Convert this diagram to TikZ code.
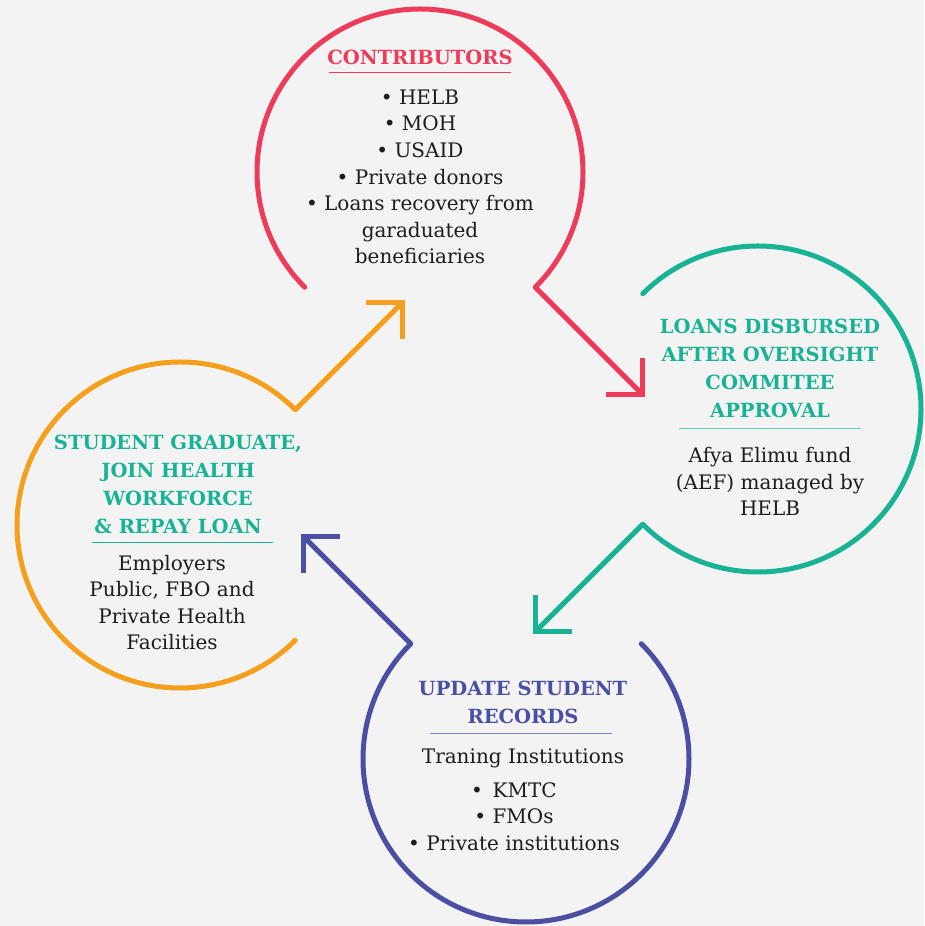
\documentclass[tikz,border=0pt]{standalone}
\usepackage{fontspec}
\setmainfont{DejaVu Serif}
\usetikzlibrary{calc}
\definecolor{cred}{HTML}{EE3B5A}
\definecolor{cteal}{HTML}{17B394}
\definecolor{cblue}{HTML}{4B4FA3}
\definecolor{corange}{HTML}{F5A01D}
\definecolor{bg}{HTML}{F3F3F3}
\definecolor{txt}{HTML}{1E1C1D}
\begin{document}
\begin{tikzpicture}[x=1pt,y=1pt,
  ring/.style={line width=5pt, line cap=round, line join=miter},
  head/.style={line width=5pt, line cap=butt, line join=miter},
  ttl/.style={font=\bfseries\fontsize{19.5}{28}\selectfont, align=center, inner sep=0pt},
  body/.style={font=\fontsize{20}{26.6}\selectfont, text=txt, align=center, inner sep=0pt},
  rulel/.style={line width=1pt}]
\fill[bg] (0,0) rectangle (924,926);
\useasboundingbox (0,0) rectangle (924,926);
% centres
\coordinate (rc) at (420,754);
\coordinate (tc) at (758,517);
\coordinate (bc) at (526,167);
\coordinate (oc) at (180,401);
% red ring
\draw[ring,cred] ($(rc)+(225:163)$) arc[start angle=225,end angle=-45,radius=163] coordinate (rk);
\path (rk) ++(-45:151) coordinate (rt);
\draw[head,cred] (rk) -- (rt);
\draw[head,cred] ($(rt)+(0,36)$) coordinate (rt1) (rt1) -- (rt) -- ($(rt)+(-36,0)$);
% teal ring
\draw[ring,cteal] ($(tc)+(135:163)$) arc[start angle=135,end angle=-135,radius=163] coordinate (tk);
\path (tk) ++(225:151) coordinate (tt);
\draw[head,cteal] (tk) -- (tt);
\draw[head,cteal] ($(tt)+(0,36)$) coordinate (tt1) (tt1) -- (tt) -- ($(tt)+(36,0)$);
% blue ring
\draw[ring,cblue] ($(bc)+(45:163)$) arc[start angle=45,end angle=-225,radius=163] coordinate (bk);
\path (bk) ++(135:151) coordinate (bt);
\draw[head,cblue] (bk) -- (bt);
\draw[head,cblue] ($(bt)+(0,-36)$) coordinate (bt1) (bt1) -- (bt) -- ($(bt)+(36,0)$);
% orange ring
\draw[ring,corange] ($(oc)+(-45:163)$) arc[start angle=-45,end angle=-315,radius=163] coordinate (ok);
\path (ok) ++(45:151) coordinate (ot);
\draw[head,corange] (ok) -- (ot);
\draw[head,corange] ($(ot)+(-36,0)$) coordinate (ot1) (ot1) -- (ot) -- ($(ot)+(0,-36)$);
% texts red
\node[ttl,text=cred] (rtitle) at (420,869) {CONTRIBUTORS};
\draw[rulel,cred] (329,853) -- (511,853);
\node[body] (rbody) at (420,749) {• HELB\\• MOH\\• USAID\\• Private donors\\• Loans recovery from\\garaduated\\beneficiaries};
% teal
\node[ttl,text=cteal] (ttitle) at (770,558) {LOANS DISBURSED\\AFTER OVERSIGHT\\COMMITEE\\APPROVAL};
\draw[rulel,cteal!70] (679,497) -- (861,497);
\node[body] (tbody) at (770,444.5) {Afya Elimu fund\\(AEF) managed by\\HELB};
% blue
\node[ttl,text=cblue] (btitle) at (523,223.5) {UPDATE STUDENT\\RECORDS};
\draw[rulel,cblue!70] (430,192) -- (612,192);
\node[body] (bhead) at (523,168) {Traning Institutions};
\node[body] (bbody) at (514,109.5) {• \,KMTC\\• FMOs\\• Private institutions};
% orange
\node[ttl,text=cteal] (otitle) at (178,442) {STUDENT GRADUATE,\\JOIN HEALTH\\WORKFORCE\\\& REPAY LOAN};
\draw[rulel,cteal] (92,383) -- (273,383);
\node[body] (obody) at (172,323.5) {Employers\\Public, FBO and\\Private Health\\Facilities};
\end{tikzpicture}
\end{document}
